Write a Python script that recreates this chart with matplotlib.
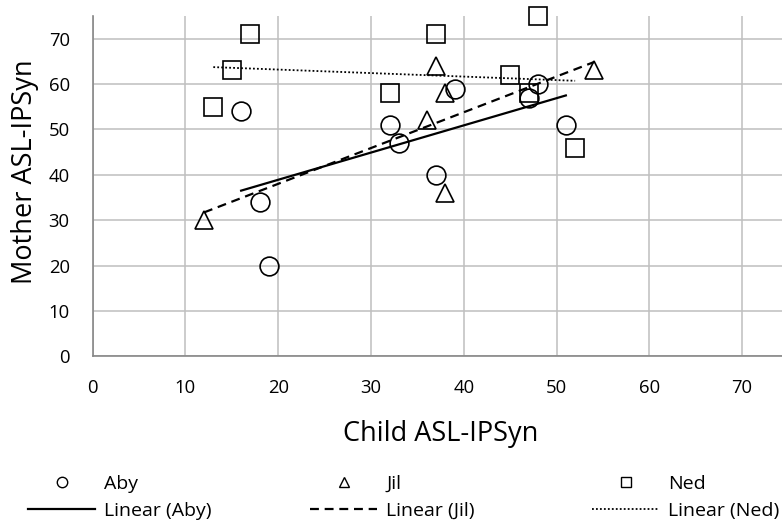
import numpy as np
import matplotlib
matplotlib.use("Agg")
import matplotlib.pyplot as plt
from matplotlib.lines import Line2D

plt.rcParams['font.family'] = ['Open Sans', 'DejaVu Sans']

# ---- data ----
aby_x = [16, 18, 19, 32, 33, 37, 39, 47, 48, 51]
aby_y = [54, 34, 20, 51, 47, 40, 59, 57, 60, 51]
jil_x = [12, 36, 37, 38, 38, 54]
jil_y = [30, 52, 64, 58, 36, 63]
ned_x = [13, 15, 17, 32, 37, 45, 47, 48, 52]
ned_y = [55, 63, 71, 58, 71, 62, 58, 75, 46]
series_names = ["Aby", "Jil", "Ned"]
x_ticks = [0, 10, 20, 30, 40, 50, 60, 70]
y_ticks = [0, 10, 20, 30, 40, 50, 60, 70]
x_label = "Child ASL-IPSyn"
y_label = "Mother ASL-IPSyn"

W, H = 782, 531
fig = plt.figure(figsize=(W / 100, H / 100), dpi=100)
ax = fig.add_axes([92.7 / W, (H - 356.3) / H, (W - 92.7) / W, (356.3 - 16) / H])

ax.set_xlim(0, 74.3)
ax.set_ylim(0, 75)
ax.set_xticks(x_ticks)
ax.set_yticks(y_ticks)
ax.grid(True, color="#BFBFBF", linewidth=1.1, zorder=0)
ax.set_axisbelow(True)
for s in ["top", "right"]:
    ax.spines[s].set_visible(False)
for s in ["left", "bottom"]:
    ax.spines[s].set_color("#878787")
    ax.spines[s].set_linewidth(1.2)
ax.tick_params(length=0, pad=16.5, labelsize=13.3, colors="black")

markers = ["o", "^", "s"]
styles = [dict(linestyle="-", linewidth=1.6),
          dict(linestyle=(0, (4, 2.6)), linewidth=1.6),
          dict(linestyle=(0, (1, 1.2)), linewidth=1.3)]
data = [(aby_x, aby_y), (jil_x, jil_y), (ned_x, ned_y)]

handles = []
for (xs, ys), m, st, name in zip(data, markers, styles, series_names):
    ax.plot(xs, ys, linestyle="none", marker=m, markersize=13.5,
            markerfacecolor="none", markeredgecolor="black",
            markeredgewidth=1.2, clip_on=False, zorder=3)
    coef = np.polyfit(xs, ys, 1)
    xl = np.array([min(xs), max(xs)])
    ax.plot(xl, np.polyval(coef, xl), color="black", zorder=4, **st)
    hm = Line2D([], [], linestyle="none", marker=m, markersize=7.5,
                markerfacecolor="none", markeredgecolor="black", markeredgewidth=1.0)
    hl = Line2D([], [], color="black", **st)
    handles.append((hm, hl, name))

fig.text(441 / W, 1 - 434 / H, x_label, fontsize=19.5, ha="center", va="center")
fig.text(25 / W, 1 - 172 / H, y_label, fontsize=19.5, ha="center", va="center",
         rotation=90)

col_x = [28, 310, 592]
for (hm, hl, name), cx in zip(handles, col_x):
    leg = fig.legend([hm, hl], [name, f"Linear ({name})"], loc="upper left",
                     bbox_to_anchor=(cx / W, 1 - 475 / H), frameon=False,
                     fontsize=14, handlelength=3.45, handletextpad=0.46,
                     borderpad=0, borderaxespad=0, labelspacing=0.45)

fig.savefig("out.png", dpi=100)
